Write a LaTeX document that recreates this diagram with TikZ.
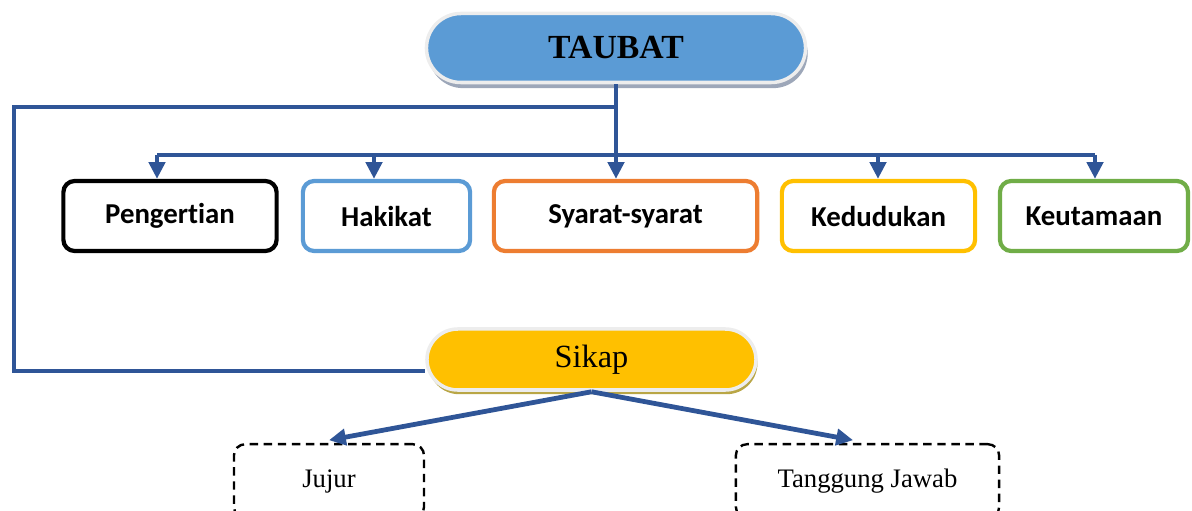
\documentclass[tikz,border=0pt]{standalone}
\usepackage{fontspec}
\setmainfont{Liberation Serif}
\newfontfamily\calibrifont[Ligatures=NoCommon]{Carlito}
\usepackage{tikz}
\usetikzlibrary{arrows.meta}
\usetikzlibrary{shadows}

\definecolor{linkblue}{HTML}{2F5597}
\definecolor{taubatblue}{HTML}{5B9BD5}
\definecolor{sikapgold}{HTML}{FFC000}
\definecolor{topicorange}{HTML}{ED7D31}
\definecolor{topicgreen}{HTML}{70AD47}
\definecolor{ringgray}{HTML}{EDEDED}

\tikzset{
    pill/.style={draw=ringgray, line width=2.5pt},
    topic/.style={draw, line width=3pt, rounded corners=8pt, fill=white,
        minimum height=1.75cm, font=\calibrifont\bfseries\fontsize{20.5}{23}\selectfont},
    option/.style={draw=black, line width=1.7pt, dash pattern=on 6pt off 4pt,
        rounded corners=8pt, minimum height=1.85cm, font=\fontsize{19}{22}\selectfont},
    link/.style={draw=linkblue, line width=3.4pt},
    arr/.style={link, -{Triangle[width=11.5pt,length=12pt]}}}

\begin{document}
\begin{tikzpicture}[x=0.025cm, y=-0.025cm]

        \useasboundingbox (0,0) rectangle (1192,511);
        \clip (0,0) rectangle (1192,511);

                    % main topic and attitude
                    \node[pill, fill=taubatblue, rounded corners=0.86cm, minimum width=9.475cm, minimum height=1.725cm,
                          drop shadow={shadow xshift=1.5pt, shadow yshift=-4pt, fill=gray!55!linkblue!60, opacity=1},
                          font=\bfseries\fontsize{24}{27}\selectfont] (taubat) at (616,48) {TAUBAT};
                    \node[pill, fill=sikapgold, rounded corners=0.77cm, minimum width=8.225cm, minimum height=1.525cm,
                          drop shadow={shadow xshift=1pt, shadow yshift=-3pt, fill=brown!50!yellow!60!gray, opacity=1},
                          font=\fontsize{23}{26}\selectfont] (sikap) at (591.5,359.5) {Sikap};

                    % the five topics
                    \node[topic, draw=black] (pengertian) at (170,216) [minimum width=5.33cm] {Pengertian};
                    \node[topic, draw=taubatblue] (hakikat) at (386.5,216) [minimum width=4.18cm] {Hakikat};
                    \node[topic, draw=topicorange] (syarat) at (625.5,216) [minimum width=6.58cm] {Syarat-syarat};
                    \node[topic, draw=sikapgold] (kedudukan) at (878.5,216) [minimum width=4.83cm] {Kedudukan};
                    \node[topic, draw=topicgreen] (keutamaan) at (1094,216) [minimum width=4.7cm] {Keutamaan};

                    % attitudes
                    \node[option, anchor=north] (jujur) at (329,443) [minimum width=4.75cm] {Jujur};
                    \node[option, anchor=north] (tanggung) at (867.5,443) [minimum width=6.58cm] {Tanggung Jawab};

                    \coordinate (barL) at (157,155);
                    \coordinate (barH) at (374,155);
                    \coordinate (barK) at (878,155);
                    \coordinate (barR) at (1095,155);
                    \coordinate (loop) at (14,107);
                    \coordinate (sikapin) at (425,371);

                    \draw[link] (barL) -- (barR);
                    \draw[arr] (taubat.south) -- (taubat.south |- syarat.north);
                    \draw[arr] (barL) -- (barL |- pengertian.north);
                    \draw[arr] (barH) -- (barH |- hakikat.north);
                    \draw[arr] (barK) -- (barK |- kedudukan.north);
                    \draw[arr] (barR) -- (barR |- keutamaan.north);
                    \draw[link] (taubat.south) |- (loop) |- (sikapin);

                    \draw[arr] (sikap.south) -- ([yshift=2pt]jujur.north);
                    \draw[arr] (sikap.south) -- ([xshift=-0.36cm, yshift=2pt]tanggung.north);

                \end{tikzpicture}
\end{document}
